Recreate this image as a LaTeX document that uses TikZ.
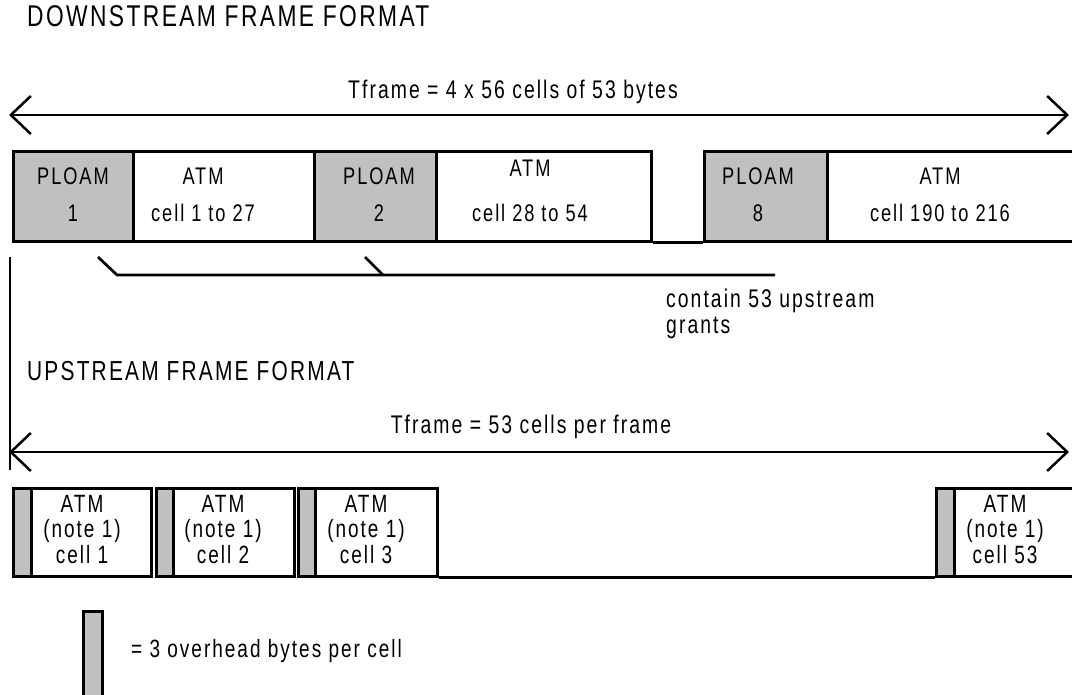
\documentclass[tikz,border=0pt]{standalone}
\usepackage{fontspec}
\setmainfont{Liberation Sans}[FakeStretch=0.76,LetterSpace=8]
\usetikzlibrary{arrows.meta, positioning, calc}
\definecolor{ohgray}{HTML}{C0C0C0}

\begin{document}
\begin{tikzpicture}[x=1pt, y=-1pt,
  line/.style={line width=2.7pt},
  slot/.style={rectangle, draw, line width=2.7pt, inner sep=0pt, anchor=north west},
  dslot/.style={slot, minimum height=90pt},
  ploam/.style={dslot, fill=ohgray},
  uslot/.style={slot, minimum height=88pt},
  ovh/.style={uslot, fill=ohgray},
  dtxt/.style={align=center, inner sep=0pt, anchor=base, font=\fontsize{24}{37}\selectfont},
  utxt/.style={align=center, inner sep=0pt, anchor=base, font=\fontsize{25}{25.5}\selectfont},
  lbl/.style={inner sep=0pt, font=\fontsize{25.5}{26}\selectfont},
  span/.style={{Straight Barb[length=20pt,width=38pt]}-{Straight Barb[length=20pt,width=38pt]}, line width=2.5pt}
]
\useasboundingbox (0,0) rectangle (1072,695);

% downstream frame
\node[lbl, anchor=base west, font=\fontsize{30}{32}\selectfont] (dtitle) at (27,27) {DOWNSTREAM FRAME FORMAT};
\coordinate (dl) at (9,115);
\coordinate (dr) at (1069,115);
\draw[span] (dl) -- (dr);
\node[lbl, anchor=base] (dspan) at (513,99) {Tframe = 4 x 56 cells of 53 bytes};

\node[ploam, minimum width=120pt] (p1) at (12,150) {};
\node[dslot, minimum width=181pt] (a1) at (132,150) {};
\node[ploam, minimum width=122pt] (p2) at (313,150) {};
\node[dslot, minimum width=215pt] (a2) at (435,150) {};
\node[ploam, minimum width=123pt] (p8) at (703,150) {};
\node[dslot, minimum width=260pt] (a8) at (826,150) {};
\draw[line] (a2.south east) -- (p8.south west);

\node[dtxt] (p1t) at (73,222) {PLOAM\\1};
\node[dtxt] (a1t) at (203,222) {ATM\\cell 1 to 27};
\node[dtxt] (p2t) at (379,222) {PLOAM\\2};
\node[dtxt] (a2t) at (530,222) {ATM\\[8pt]cell 28 to 54};
\node[dtxt] (p8t) at (758,222) {PLOAM\\8};
\node[dtxt] (a8t) at (940,222) {ATM\\cell 190 to 216};

% grants bracket
\coordinate (g1) at (98,257);
\coordinate (g2) at (365,257);
\coordinate (gend) at (775,275);
\draw[line] (g1) -- ++(19,18) -- (gend);
\draw[line] (g2) -- ++(18,18);
\node[lbl, anchor=base west, align=left] (grants) at (666,334) {contain 53 upstream\\grants};

\coordinate (vtop) at (10,257);
\coordinate (vbot) at (10,470);
\draw[line] (vtop) -- (vbot);

% upstream frame
\node[lbl, anchor=base west, font=\fontsize{27.5}{30}\selectfont] (utitle) at (27,381) {UPSTREAM FRAME FORMAT};
\coordinate (ul) at (9,452);
\coordinate (ur) at (1069,452);
\draw[span] (ul) -- (ur);
\node[lbl, anchor=base] (uspan) at (531,433) {Tframe = 53 cells per frame};

\node[ovh, minimum width=18pt] (o1) at (12,487) {};
\node[uslot, minimum width=120pt] (c1) at (30,487) {};
\node[ovh, minimum width=17pt] (o2) at (155,487) {};
\node[uslot, minimum width=121pt] (c2) at (172,487) {};
\node[ovh, minimum width=17pt] (o3) at (297,487) {};
\node[uslot, minimum width=122pt] (c3) at (314,487) {};
\node[ovh, minimum width=18pt] (o53) at (935,487) {};
\node[uslot, minimum width=130pt] (c53) at (953,487) {};
\draw[line] (c3.south east) -- (o53.south west);

\node[utxt] (c1t) at (82,563) {ATM\\(note 1)\\cell 1};
\node[utxt] (c2t) at (223,563) {ATM\\(note 1)\\cell 2};
\node[utxt] (c3t) at (366,563) {ATM\\(note 1)\\cell 3};
\node[utxt] (c53t) at (1005,563) {ATM\\(note 1)\\cell 53};

% legend
\node[slot, fill=ohgray, minimum width=19pt, minimum height=100pt] (key) at (82,610) {};
\node[lbl, anchor=base west, font=\fontsize{25}{26}\selectfont] (keyt) at (131,657) {= 3 overhead bytes per cell};
\end{tikzpicture}
\end{document}
